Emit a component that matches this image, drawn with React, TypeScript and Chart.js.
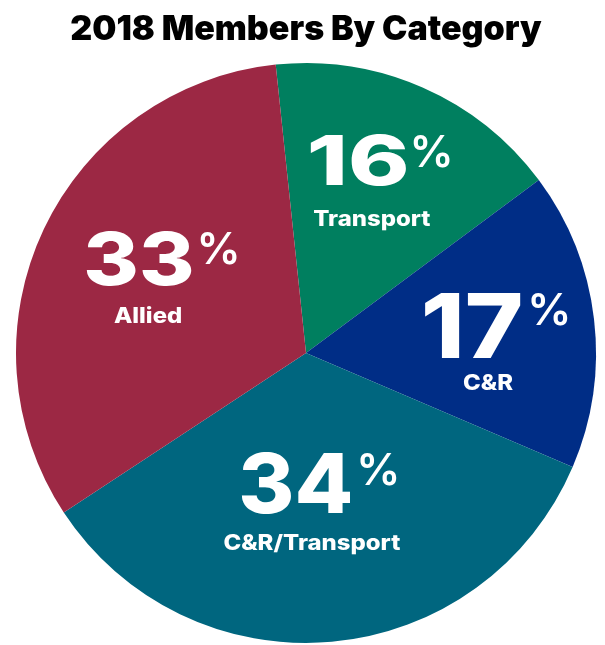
import React, { useEffect, useRef } from "react";
import { Chart, registerables } from "chart.js";

Chart.register(...registerables);

const categories = ["Transport", "C&R", "C&R/Transport", "Allied"];
const values = [16.5, 16.6, 34.3, 32.6];
const pctLabels = ["16", "17", "34", "33"];
const colors = ["#007F5F", "#002D86", "#00667F", "#9C2844"];

// label styling (not data)
const labelStyles = [
  { rf: 0.622, da: -2.3, num: 69, gap: 41, sx: 1.35, goff: 8.5, gp: 0 },
  { rf: 0.628, da: 8.3, num: 89, gap: 32, sx: 1.12, goff: 8, gp: 4 },
  { rf: 0.552, da: 3.0, num: 83, gap: 37, sx: 1.03, goff: 7.5, gp: 3 },
  { rf: 0.593, da: -2.0, num: 73, gap: 38, sx: 1.16, goff: 14, gp: 2 },
];
const FONT = "Inter, Lato, 'Open Sans', sans-serif";
const PCT_SIZE = 44;
const SUB_SIZE = 21;
const CAP = 0.727;
const SUB_SX = 1.14;

const labelPlugin = {
  id: "sliceLabels",
  afterDatasetsDraw(chart: any) {
    const ctx = chart.ctx;
    const meta = chart.getDatasetMeta(0);
    meta.data.forEach((arc: any, i: number) => {
      const p = arc.getProps(["x", "y", "startAngle", "endAngle", "outerRadius"], true);
      const st = labelStyles[i];
      const mid = (p.startAngle + p.endAngle) / 2 + (st.da * Math.PI) / 180;
      const r = p.outerRadius * st.rf;
      const ax = p.x + Math.cos(mid) * r;
      const ay = p.y + Math.sin(mid) * r;
      ctx.save();
      ctx.fillStyle = "#ffffff";
      ctx.textBaseline = "alphabetic";
      ctx.textAlign = "left";
      const numText = pctLabels[i];
      ctx.font = `800 ${st.num}px ${FONT}`;
      const nw = ctx.measureText(numText).width * st.sx;
      ctx.font = `600 ${PCT_SIZE}px ${FONT}`;
      const pw = ctx.measureText("%").width;
      const total = nw + st.gp + pw;
      const left = ax + st.goff - total / 2;
      // number (stretched horizontally)
      ctx.save();
      ctx.translate(left, ay);
      ctx.scale(st.sx, 1);
      ctx.font = `800 ${st.num}px ${FONT}`;
      ctx.fillText(numText, 0, 0);
      ctx.restore();
      // percent sign
      ctx.font = `600 ${PCT_SIZE}px ${FONT}`;
      const pctBase = ay - st.num * CAP + PCT_SIZE * CAP;
      ctx.fillText("%", left + nw + st.gp, pctBase);
      // sub label
      ctx.save();
      ctx.translate(ax, ay + st.gap);
      ctx.scale(SUB_SX, 1);
      ctx.textAlign = "center";
      ctx.font = `800 ${SUB_SIZE}px ${FONT}`;
      ctx.fillText(categories[i], 0, 0);
      ctx.restore();
      ctx.restore();
    });
  },
};

export default function App() {
  const ref = useRef<HTMLCanvasElement>(null);
  useEffect(() => {
    if (!ref.current) return;
    const chart = new Chart(ref.current, {
      type: "pie",
      data: {
        labels: categories,
        datasets: [
          {
            data: values,
            backgroundColor: colors,
            borderWidth: 0,
          },
        ],
      },
      options: {
        animation: false,
        responsive: false,
        rotation: -6,
        layout: { padding: { left: 16, right: 9, top: 0, bottom: 2 } },
        plugins: {
          legend: { display: false },
          tooltip: { enabled: false },
          title: {
            display: true,
            text: "2018 Members By Category",
            color: "#000000",
            font: { family: FONT, size: 34, weight: "900" as any, lineHeight: 1.2 },
            padding: { top: 9, bottom: 13.2 },
          },
        },
      },
      plugins: [labelPlugin],
    });
    return () => chart.destroy();
  }, []);
  return (
    <div style={{ position: "fixed", left: 0, top: 0, width: 605, height: 645, background: "#fff" }}>
      <canvas ref={ref} width={605} height={645} style={{ width: 605, height: 645 }} />
    </div>
  );
}
